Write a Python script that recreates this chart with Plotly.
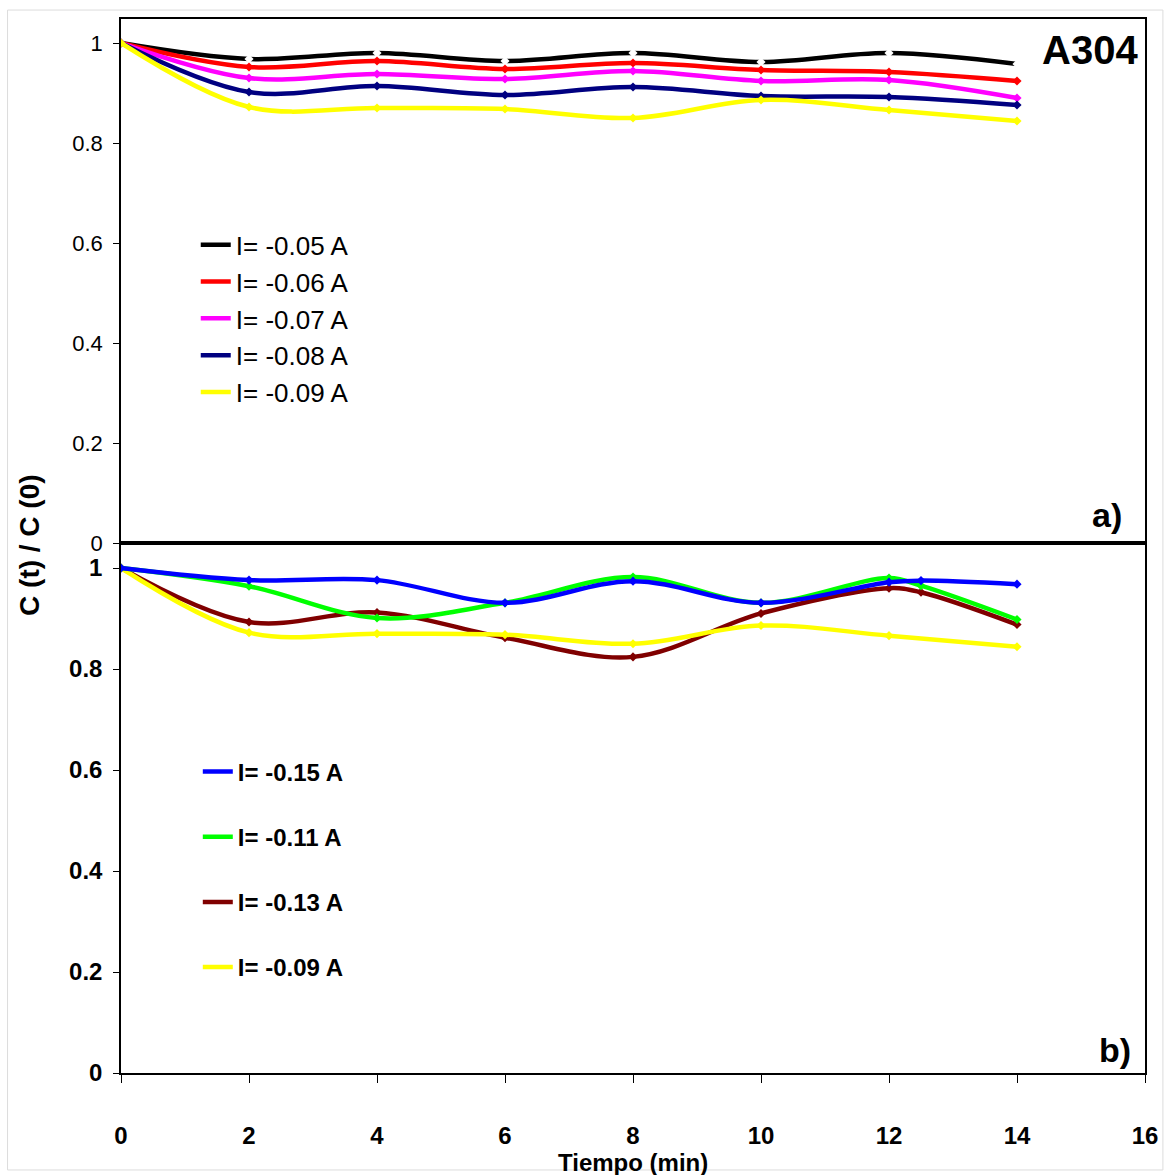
import plotly.graph_objects as go

# ---- data ----
time = [0, 2, 4, 6, 8, 10, 12, 14]
time_b = [0, 2, 4, 6, 8, 10, 12, 12.5, 14]

top_labels = ["I= -0.05 A", "I= -0.06 A", "I= -0.07 A", "I= -0.08 A", "I= -0.09 A"]
top_black = [1.0, 0.968, 0.980, 0.964, 0.980, 0.962, 0.980, 0.958]
top_red = [1.0, 0.952, 0.964, 0.948, 0.960, 0.946, 0.942, 0.924]
top_magenta = [1.0, 0.930, 0.938, 0.928, 0.944, 0.924, 0.926, 0.890]
top_navy = [1.0, 0.902, 0.914, 0.896, 0.912, 0.894, 0.892, 0.876]
top_yellow = [1.0, 0.872, 0.870, 0.868, 0.850, 0.886, 0.866, 0.844]

bot_labels = ["I= -0.15 A", "I= -0.11 A", "I= -0.13 A", "I= -0.09 A"]
bot_blue = [1.0, 0.976, 0.976, 0.931, 0.974, 0.931, 0.972, 0.975, 0.968]
bot_green = [1.0, 0.964, 0.901, 0.931, 0.982, 0.931, 0.980, 0.965, 0.898]
bot_brown = [1.0, 0.893, 0.912, 0.862, 0.824, 0.910, 0.960, 0.952, 0.888]
bot_yellow = [1.0, 0.872, 0.870, 0.868, 0.850, 0.886, 0.866, 0.844]

x_ticks = [0, 2, 4, 6, 8, 10, 12, 14, 16]
y_ticks = [0, 0.2, 0.4, 0.6, 0.8, 1]
y_ticktext = ["0", "0.2", "0.4", "0.6", "0.8", "1"]

REG = "Liberation Sans, Arial, sans-serif"
BOLD = "Liberation Sans, Arial, sans-serif"

fig = go.Figure()

top_series = [
    (top_black, "#000000", "#ffffff"),
    (top_red, "#ff0000", "#ff0000"),
    (top_magenta, "#ff00ff", "#ff00ff"),
    (top_navy, "#000080", "#000080"),
    (top_yellow, "#ffff00", "#ffff00"),
]
for i, (vals, col, mcol) in enumerate(top_series):
    fig.add_trace(go.Scatter(
        x=time, y=vals, name=top_labels[i], mode="lines",
        line=dict(color=col, width=4.5, shape="spline", smoothing=1),
        xaxis="x", yaxis="y", legend="legend", legendgroup=f"t{i}",
        legendrank=i + 1,
    ))
    fig.add_trace(go.Scatter(
        x=time, y=vals, mode="markers", showlegend=False, hoverinfo="skip",
        marker=dict(symbol="diamond", size=7, color=mcol),
        xaxis="x", yaxis="y", legendgroup=f"t{i}",
    ))

bot_series = [
    (time_b, bot_brown, "#800000", 3, bot_labels[2]),
    (time, bot_yellow, "#ffff00", 4, bot_labels[3]),
    (time_b, bot_green, "#00ff00", 2, bot_labels[1]),
    (time_b, bot_blue, "#0000ff", 1, bot_labels[0]),
]
for xs, vals, col, rank, lab in bot_series:
    fig.add_trace(go.Scatter(
        x=xs, y=vals, name=lab, mode="lines",
        line=dict(color=col, width=4.5, shape="spline", smoothing=1),
        xaxis="x2", yaxis="y2", legend="legend2", legendgroup=f"b{rank}",
        legendrank=rank,
    ))
    fig.add_trace(go.Scatter(
        x=xs, y=vals, mode="markers", showlegend=False, hoverinfo="skip",
        marker=dict(symbol="diamond", size=7, color=col),
        xaxis="x2", yaxis="y2", legendgroup=f"b{rank}",
    ))

split = 530 / 1054

axis_common = dict(showline=True, linecolor="black", linewidth=1.5, mirror=True,
                   showgrid=False, zeroline=False)

fig.update_layout(
    width=1170, height=1175,
    margin=dict(l=121, r=20, t=19, b=102),
    paper_bgcolor="white", plot_bgcolor="white",
    xaxis=dict(domain=[0, 1], anchor="y", range=[0, 16], showticklabels=False,
               ticks="", **axis_common),
    yaxis=dict(domain=[split, 1], anchor="x", range=[0, 1.048],
               tickvals=y_ticks, ticktext=y_ticktext, ticks="outside", ticklen=6,
               tickcolor="black", ticklabelstandoff=6,
               tickfont=dict(family=REG, size=22, color="black"), **axis_common),
    xaxis2=dict(domain=[0, 1], anchor="y2", range=[0, 16], tickvals=x_ticks,
                ticks="outside", ticklen=8, tickcolor="black", ticklabelstandoff=32,
                tickfont=dict(family=BOLD, size=24, color="black", weight="bold"),
                **axis_common),
    yaxis2=dict(domain=[0, split], anchor="x2", range=[0, 1.0495],
                tickvals=y_ticks, ticktext=y_ticktext, ticks="outside", ticklen=6,
                tickcolor="black", ticklabelstandoff=6,
                tickfont=dict(family=BOLD, size=24, color="black", weight="bold"),
                **axis_common),
    legend=dict(x=0.073, y=0.808, xanchor="left", yanchor="top",
                bgcolor="rgba(0,0,0,0)", tracegroupgap=0, itemwidth=30,
                font=dict(family=REG, size=26, color="black"), traceorder="grouped"),
    legend2=dict(x=0.075, y=0.307, xanchor="left", yanchor="top",
                 bgcolor="rgba(0,0,0,0)", tracegroupgap=31, itemwidth=30,
                 font=dict(family=BOLD, size=24, color="black", weight="bold"),
                 traceorder="grouped"),
    showlegend=True,
)

fig.add_annotation(text="C (t) / C (0)", xref="paper", yref="paper", x=0, y=0.501,
                   xshift=-91, xanchor="center", yanchor="middle", textangle=-90,
                   showarrow=False,
                   font=dict(family=BOLD, size=28, color="black", weight="bold"))
fig.add_annotation(text="Tiempo (min)", xref="x2", yref="paper", x=8, y=0,
                   yshift=-89, showarrow=False, yanchor="middle", xanchor="center",
                   font=dict(family=BOLD, size=24, color="black", weight="bold"))
fig.add_annotation(text="A304", xref="paper", yref="paper", x=0.9466, y=0.9706,
                   showarrow=False, xanchor="center", yanchor="middle",
                   font=dict(family=BOLD, size=40, color="black", weight="bold"))
fig.add_annotation(text="a)", xref="paper", yref="paper", x=0.963, y=0.5294,
                   showarrow=False, xanchor="center", yanchor="middle",
                   font=dict(family=BOLD, size=34, color="black", weight="bold"))
fig.add_annotation(text="b)", xref="paper", yref="paper", x=0.971, y=0.0218,
                   showarrow=False, xanchor="center", yanchor="middle",
                   font=dict(family=BOLD, size=34, color="black", weight="bold"))

fig.add_shape(type="rect", xref="paper", yref="paper",
              x0=-0.1108, x1=1.0175, y0=-0.092, y1=1.0085,
              line=dict(color="#dcdcdc", width=1), layer="below")

fig.write_html("out.html")
